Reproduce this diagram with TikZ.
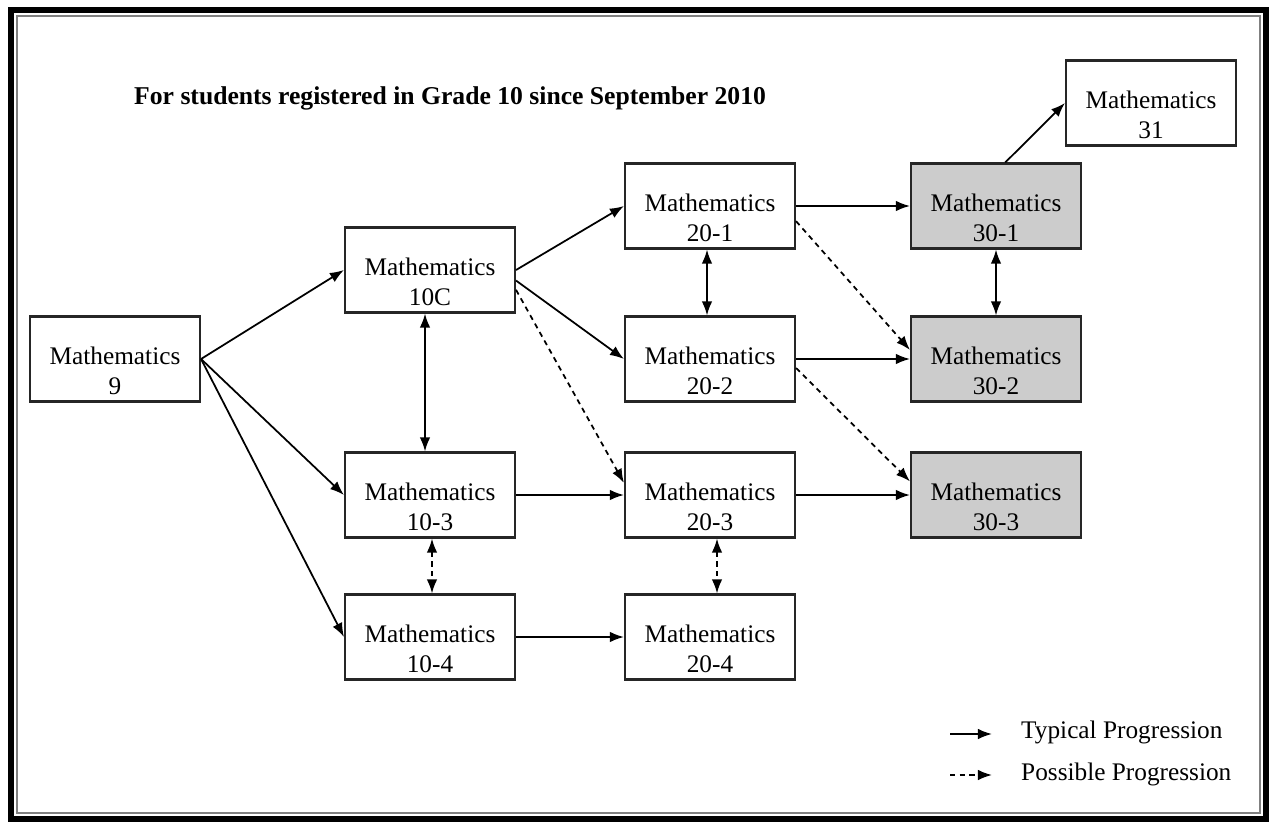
\documentclass[tikz,border=0pt]{standalone}
\usepackage{fontspec}
\setmainfont{Liberation Serif}
\usepackage{tikz}
\usetikzlibrary{arrows.meta}
\usetikzlibrary{positioning}

\begin{document}
\begin{tikzpicture}[x=0.02cm,y=-0.02cm]
\tikzset{
    course/.style={
              rectangle,
                   draw=black!85,
                   line width=1.2pt,
                   minimum width=3.4cm,
                   minimum height=1.7cm,
                   align=center,
                   text height=40pt,
                   text depth=0pt,
                   font=\fontsize{14.4}{17}\selectfont
    },
    senior/.style={
              course,
                   fill=black!20
    },
    typical/.style={
              line width=1pt,
                   -{Latex[length=8pt,width=6pt]}
    },
    possible/.style={
              typical,
                   dash pattern=on 3pt off 2.5pt
    },
    both/.style={
              line width=1pt,
                   {Latex[length=8pt,width=6pt]}-{Latex[length=8pt,width=6pt]}
    }
}
    % frame
    \useasboundingbox (0,0) rectangle (1275,824);
    \draw[line width=3.5pt] (11,10) rectangle (1266,819);
    \draw[black!50,line width=1pt] (17,16) rectangle (1260,813);

    \node (title)[anchor=base west,font=\fontsize{14.6}{17}\selectfont\bfseries] at (128,105)
        {For students registered in Grade 10 since September 2010};

    \node (M9)[course] at (115,359) {Mathematics\\9};
    \node (M10C)[course] at (430,270) {Mathematics\\10C};
    \node (M103)[course] at (430,495) {Mathematics\\10-3};
    \node (M104)[course] at (430,637) {Mathematics\\10-4};
    \node (M201)[course] at (710,206) {Mathematics\\20-1};
    \node (M202)[course] at (710,359) {Mathematics\\20-2};
    \node (M203)[course] at (710,495) {Mathematics\\20-3};
    \node (M204)[course] at (710,637) {Mathematics\\20-4};
    \node (M301)[senior] at (996,206) {Mathematics\\30-1};
    \node (M302)[senior] at (996,359) {Mathematics\\30-2};
    \node (M303)[senior] at (996,495) {Mathematics\\30-3};
    \node (M31)[course] at (1151,103) {Mathematics\\31};

    \draw[typical] (M9.east) -- (M10C.west);
    \draw[typical] (M9.east) -- (M103.west);
    \draw[typical] (M9.east) -- (M104.west);
    \draw[both] ([xshift=-0.1cm]M10C.south) -- ([xshift=-0.1cm]M103.north);
    \draw[both,dash pattern=on 3pt off 2.5pt] ([xshift=0.04cm]M103.south) -- ([xshift=0.04cm]M104.north);
    \draw[typical] (M10C.east) -- (M201.west);
    \draw[typical] (M10C.-7) -- (M202.west);
    \draw[possible] (M10C.-13) -- (M203.172);
    \draw[typical] (M103.east) -- (M203.west);
    \draw[typical] (M104.east) -- (M204.west);
    \draw[both] ([xshift=-0.06cm]M201.south) -- ([xshift=-0.06cm]M202.north);
    \draw[both,dash pattern=on 3pt off 2.5pt] ([xshift=0.14cm]M203.south) -- ([xshift=0.14cm]M204.north);
    \draw[typical] (M201.east) -- (M301.west);
    \draw[possible] (M201.-10) -- (M302.174);
    \draw[typical] (M202.east) -- (M302.west);
    \draw[possible] (M202.-6) -- (M303.171);
    \draw[typical] (M203.east) -- (M303.west);
    \draw[both] (M301.south) -- (M302.north);
    \draw[typical] (M301.78) -- (M31.west);

    % legend
    \coordinate (ta) at (950,734);
    \coordinate (tb) at (992,734);
    \coordinate (pa) at (950,775);
    \coordinate (pb) at (992,775);
    \draw[typical] (ta) -- (tb);
    \draw[possible] (pa) -- (pb);
    \node (typ)[anchor=west,font=\fontsize{14.4}{17}\selectfont] at (1015,732) {Typical Progression};
    \node (pos)[anchor=west,font=\fontsize{14.4}{17}\selectfont] at (1015,774) {Possible Progression};

\end{tikzpicture}
\end{document}
